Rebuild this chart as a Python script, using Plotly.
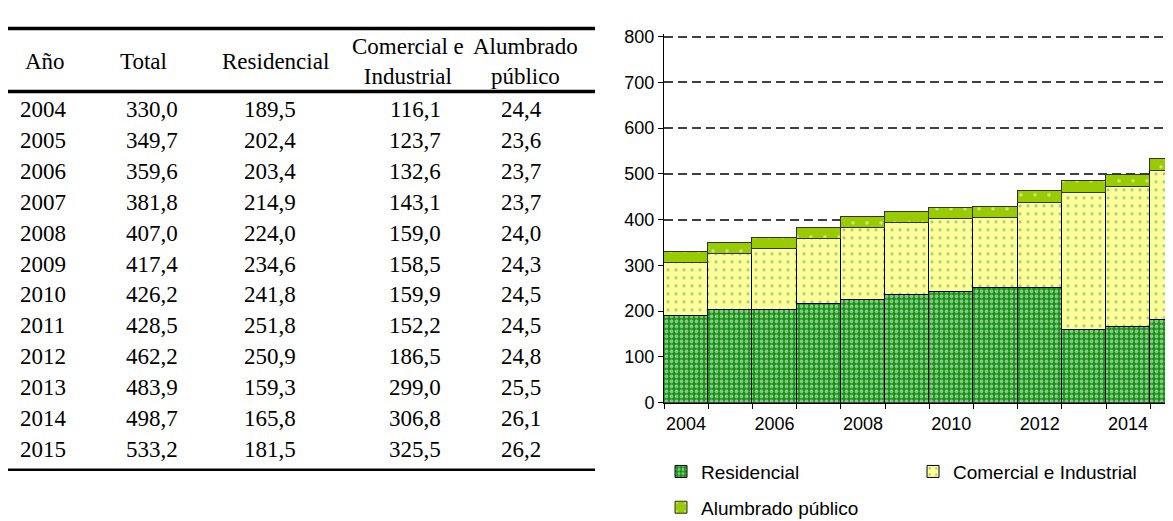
import plotly.graph_objects as go

# datos (GWh)
years = [2004, 2005, 2006, 2007, 2008, 2009, 2010, 2011, 2012, 2013, 2014, 2015]
total = [330.0, 349.7, 359.6, 381.8, 407.0, 417.4, 426.2, 428.5, 462.2, 483.9, 498.7, 533.2]
residencial = [189.5, 202.4, 203.4, 214.9, 224.0, 234.6, 241.8, 251.8, 250.9, 159.3, 165.8, 181.5]
comercial = [116.1, 123.7, 132.6, 143.1, 159.0, 158.5, 159.9, 152.2, 186.5, 299.0, 306.8, 325.5]
alumbrado = [24.4, 23.6, 23.7, 23.7, 24.0, 24.3, 24.5, 24.5, 24.8, 25.5, 26.1, 26.2]

headers = ["Año", "Total", "Residencial", "Comercial e<br>Industrial", "Alumbrado<br>público"]
tick_years = [2004, 2006, 2008, 2010, 2012, 2014]

W, H = 1173, 521


def fmt(v):
    return f"{v:.1f}".replace(".", ",")


def px(x):
    return x / W


def py(y):
    return 1 - y / H


fig = go.Figure()

fig.add_trace(go.Bar(
    x=years, y=residencial, name="Residencial",
    marker=dict(line=dict(color="black", width=1),
                pattern=dict(shape=".", fgcolor="white", bgcolor="#138f13",
                             size=5, solidity=0.45)),
    legend="legend"))
fig.add_trace(go.Bar(
    x=years, y=comercial, name="Comercial e Industrial",
    marker=dict(line=dict(color="black", width=1),
                pattern=dict(shape=".", fgcolor="#339966", bgcolor="#ffff99",
                             size=8, solidity=0.12)),
    legend="legend"))
fig.add_trace(go.Bar(
    x=years, y=alumbrado, name="Alumbrado público",
    marker=dict(line=dict(color="#333333", width=1),
                pattern=dict(shape=".", fgcolor="white", bgcolor="#99cc00",
                             size=14, solidity=0.05)),
    legend="legend2"))

# tabla a la izquierda
col_x = [10, 144, 262, 407, 513]
head_x = [37, 135, 267, 400, 517]
row_y0, row_dy = 98, 31.9
font_t = dict(family="Liberation Serif", size=23, color="black")

ann = []
for i, h in enumerate(headers):
    ann.append(dict(x=px(head_x[i]), y=py(48), xref="paper", yref="paper",
                    text=h, showarrow=False, xanchor="center", yanchor="middle",
                    font=font_t))
cols = [[str(y) for y in years], [fmt(v) for v in total], [fmt(v) for v in residencial],
        [fmt(v) for v in comercial], [fmt(v) for v in alumbrado]]
for c, vals in enumerate(cols):
    for r, t in enumerate(vals):
        ann.append(dict(x=px(col_x[c]), y=py(row_y0 + r * row_dy), xref="paper", yref="paper",
                        text=t, showarrow=False, xanchor="left" if c == 0 else "center",
                        yanchor="middle", font=font_t))

shapes = []
for yy, lw in [(14, 3.5), (79, 3.5), (470, 2.5)]:
    shapes.append(dict(type="line", xref="paper", yref="paper", x0=0, x1=px(587),
                       y0=py(yy), y1=py(yy), line=dict(color="black", width=lw)))

bar_w = 44.2
px_per_unit = (400.7 - 22.3) / 800
fig.update_layout(
    width=W, height=H,
    margin=dict(l=0, r=0, t=0, b=0),
    paper_bgcolor="white", plot_bgcolor="white",
    barmode="stack", bargap=0,
    font=dict(family="Liberation Sans", size=18, color="black"),
    annotations=ann, shapes=shapes,
    xaxis=dict(domain=[px(656), 1], range=[2003.5, 2003.5 + (W - 656) / bar_w],
               tickvals=tick_years, ticktext=[str(t) for t in tick_years],
               ticks="outside", ticklen=5, tickcolor="rgba(0,0,0,0)",
               showline=True, linecolor="black", linewidth=1,
               showgrid=False, zeroline=False,
               minor=dict(tick0=2003.5, dtick=1, ticks="outside", ticklen=5,
                          tickcolor="black", tickwidth=1),
               tickfont=dict(size=18)),
    yaxis=dict(domain=[py(400.7), py(22.3 - 6 * px_per_unit)], range=[0, 806], dtick=100,
               showgrid=True, gridcolor="#404040", griddash="9px,5px", gridwidth=1.5,
               showline=True, linecolor="black", linewidth=1,
               ticks="outside", ticklen=5, tickcolor="black",
               zeroline=False, tickfont=dict(size=18)),
    legend=dict(orientation="h", x=px(653), y=py(472), xanchor="left", yanchor="middle",
                traceorder="normal", entrywidth=207, itemwidth=30, font=dict(size=19),
                bgcolor="rgba(0,0,0,0)"),
    legend2=dict(orientation="h", x=px(653), y=py(509), xanchor="left", yanchor="middle",
                 itemwidth=30, font=dict(size=19), bgcolor="rgba(0,0,0,0)"),
)

fig.write_html("out.html")
